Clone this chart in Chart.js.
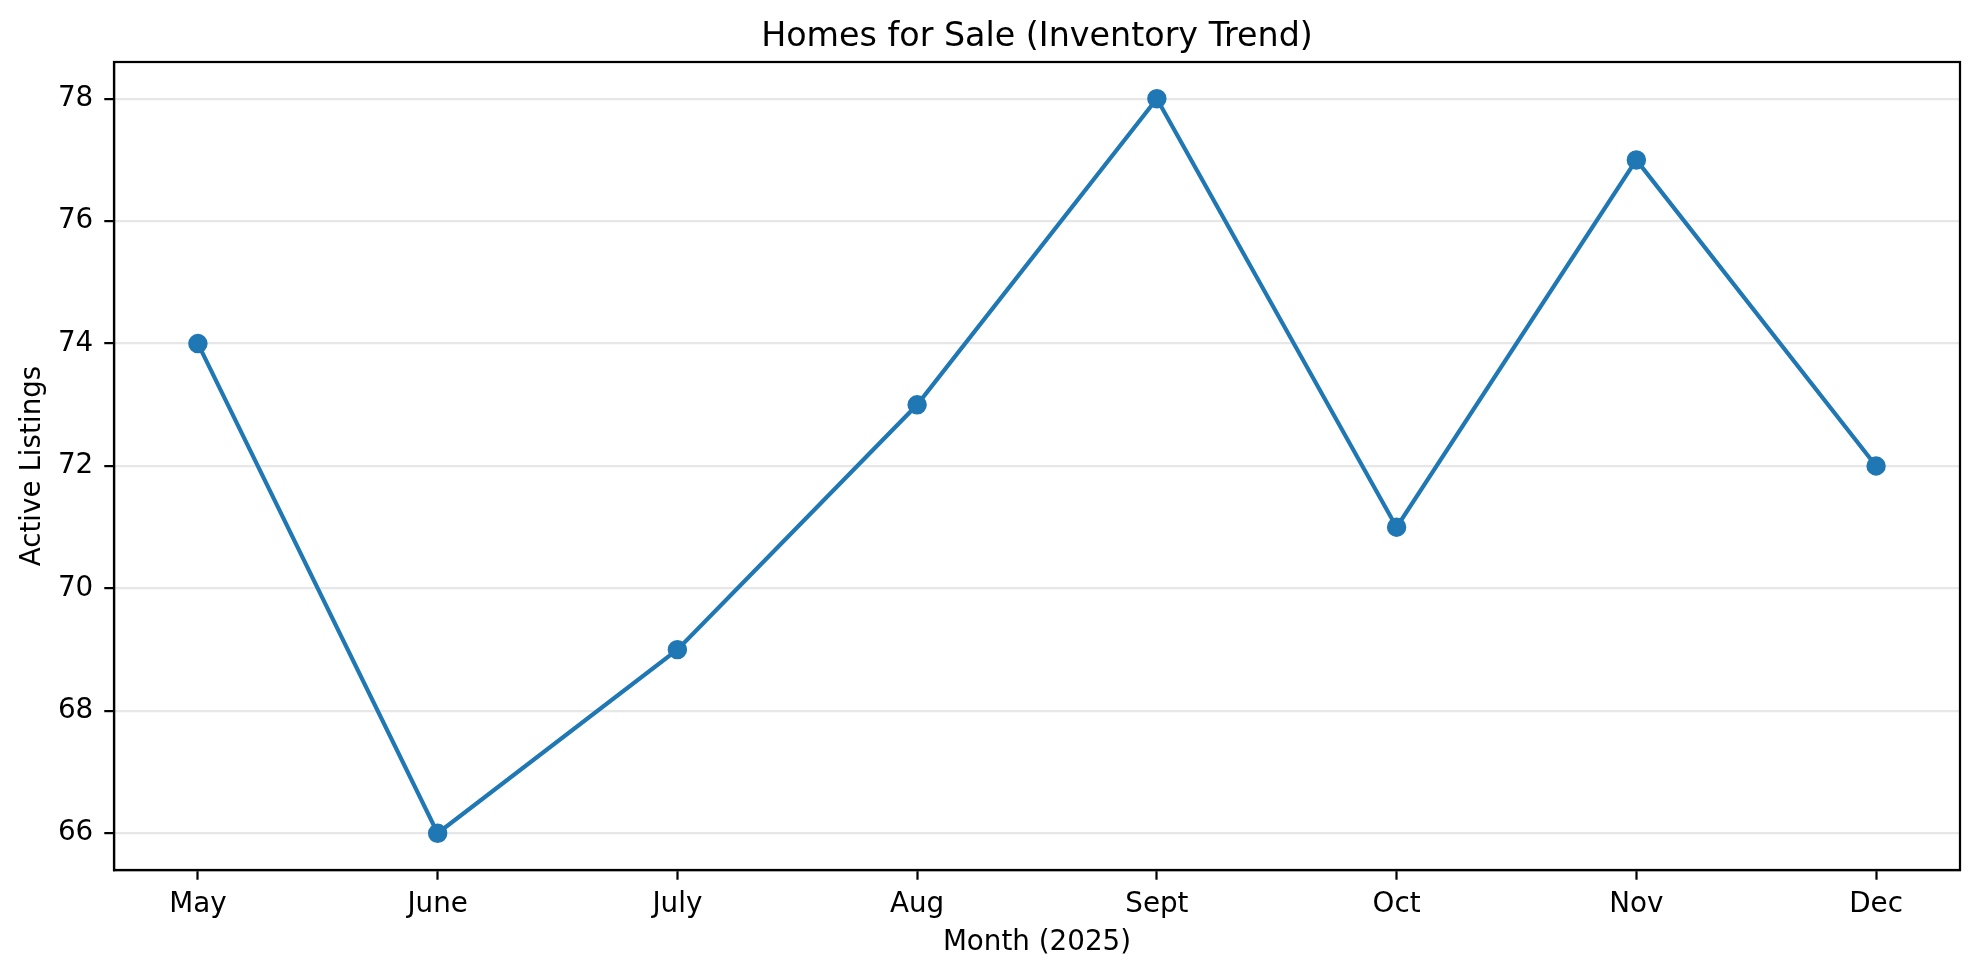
<!DOCTYPE html>
<html>
<head>
<meta charset="utf-8">
<title>Homes for Sale (Inventory Trend)</title>
<script src="https://cdn.jsdelivr.net/npm/chart.js@4.4.1/dist/chart.umd.min.js"></script>
<style>
  html, body { margin: 0; padding: 0; background: #fff; }
  #chart-inventory { display: block; }
</style>
</head>
<body>
<canvas id="chart-inventory" width="1979" height="977"></canvas>
<script>
const months = ['May', 'June', 'July', 'Aug', 'Sept', 'Oct', 'Nov', 'Dec'];
const listings = [74, 66, 69, 73, 78, 71, 77, 72];
const yTicks = [66, 68, 70, 72, 74, 76, 78];

const blue = '#1f77b4';
const pt = 200 / 72; // reference was saved at 200 dpi

Chart.defaults.font.family = '"DejaVu Sans", sans-serif';
Chart.defaults.color = '#000';

// matplotlib draws a full box around the axes
const frame = {
  id: 'frame',
  afterDraw(chart) {
    const { ctx, chartArea } = chart;
    ctx.save();
    ctx.strokeStyle = '#000';
    ctx.lineWidth = 0.8 * pt;
    ctx.strokeRect(chartArea.left, chartArea.top, chartArea.right - chartArea.left, chartArea.bottom - chartArea.top);
    ctx.restore();
  }
};

const data = {
  datasets: [{
    data: listings.map((v, i) => ({ x: i, y: v })),
    borderColor: blue,
    backgroundColor: blue,
    borderWidth: 1.5 * pt,
    pointRadius: 3 * pt,
    pointBorderWidth: 1 * pt,
    pointBackgroundColor: blue,
    pointBorderColor: blue,
    tension: 0,
    clip: false
  }]
};

const configurations = {
  type: 'line',
  data: data,
  plugins: [frame],
  options: {
    responsive: false,
    devicePixelRatio: 1,
    animation: false,
    layout: { padding: { left: 0, right: 19, top: 0, bottom: 0 } },
    plugins: {
      legend: { display: false },
      tooltip: { enabled: false },
      title: {
        display: true,
        fullSize: false,
        text: 'Homes for Sale (Inventory Trend)',
        font: { size: 12 * pt, weight: 'normal', lineHeight: 1.2 },
        color: '#000',
        padding: { top: 17, bottom: 5 }
      }
    },
    scales: {
      x: {
        type: 'linear',
        min: -0.35,
        max: months.length - 1 + 0.35,
        afterBuildTicks: (scale) => { scale.ticks = months.map((m, i) => ({ value: i })); },
        afterFit: (scale) => { scale.height = 107; },
        ticks: {
          font: { size: 10 * pt },
          padding: 8,
          maxRotation: 0,
          autoSkip: false,
          callback: (value) => months[value]
        },
        grid: {
          drawOnChartArea: false,
          color: '#000',
          tickColor: '#000',
          tickLength: 3.5 * pt,
          tickWidth: 0.8 * pt
        },
        border: { display: true, color: '#000', width: 0.8 * pt },
        title: {
          display: true,
          text: 'Month (2025)',
          font: { size: 10 * pt, lineHeight: 1.2 },
          color: '#000',
          padding: { top: 0, bottom: 18 }
        }
      },
      y: {
        type: 'linear',
        min: 65.4,
        max: 78.6,
        afterBuildTicks: (scale) => { scale.ticks = yTicks.map(v => ({ value: v })); },
        afterFit: (scale) => { scale.width = 114; },
        ticks: {
          font: { size: 10 * pt },
          padding: 11
        },
        grid: {
          color: '#e7e7e7',
          lineWidth: 0.8 * pt,
          tickColor: '#000',
          tickLength: 3.5 * pt,
          tickWidth: 0.8 * pt
        },
        border: { display: true, color: '#000', width: 0.8 * pt },
        title: {
          display: true,
          text: 'Active Listings',
          font: { size: 10 * pt, lineHeight: 1.2 },
          color: '#000',
          padding: { top: 16, bottom: 0 }
        }
      }
    }
  }
};

new Chart(document.getElementById('chart-inventory'), configurations);
</script>
</body>
</html>
